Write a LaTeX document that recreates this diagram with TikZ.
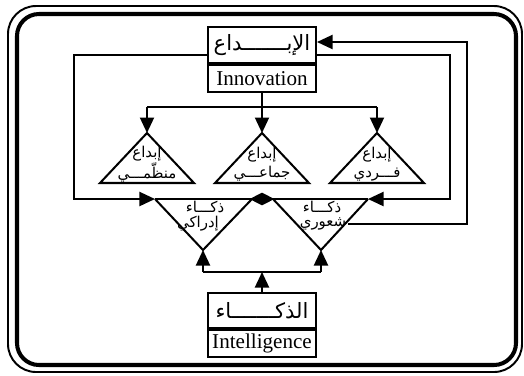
\documentclass[tikz,border=0pt]{standalone}
\usepackage{fontspec}
\setmainfont{Liberation Serif}
\newfontfamily\arabicfont[Script=Arabic]{DejaVu Sans}
\TeXXeTstate=1
\usetikzlibrary{arrows.meta}
\usetikzlibrary{positioning}
\usetikzlibrary{shapes.geometric}
\tikzset{
    wire/.style = {line width=1.15pt},
    conn/.style = {wire, -{Triangle[length=3.1mm, width=2.8mm]}},
    boxpart/.style = {draw, wire, rectangle, minimum width=21.6mm, inner sep=0pt, fill=white},
    arpart/.style = {boxpart, minimum height=7.2mm, font=\arabicfont\fontsize{12}{14}\selectfont},
    enpart/.style = {boxpart, minimum height=5.4mm, font=\fontsize{12}{14}\selectfont},
    tri/.style = {wire, line join=miter},
    trilabel/.style = {align=center, inner sep=1pt, font=\arabicfont\fontsize{8.5}{11}\selectfont},
    tiphead/.style = {diamond, fill, aspect=2, minimum width=5mm, minimum height=2.6mm, inner sep=0pt}
}

\begin{document}
\begin{tikzpicture}[x=0.2mm, y=-0.2mm]
    \useasboundingbox (0,0) rectangle (524,375);

    % double frame
    \draw[line width=1.1pt, rounded corners=5.6mm] (8,6) rectangle (522,372);
    \draw[line width=2.3pt, rounded corners=4.4mm] (17,14) rectangle (516,365);

    % boxes
    \node [arpart] (innovAr) at (262,45) {\beginR الإبـــــــداع\endR};
    \node [enpart, below=0pt of innovAr] (innovEn) {Innovation};
    \node [arpart, minimum height=7mm] (intelAr) at (262,310.5) {\beginR الذكـــــــاء\endR};
    \node [enpart, below=0pt of intelAr] (intelEn) {Intelligence};

    % upper triangles
    \coordinate (upL) at (147,133);
    \coordinate (upM) at (262,133);
    \coordinate (upR) at (377,133);
    \foreach \t in {upL,upM,upR}
        \draw[tri] (\t) -- ++(-47,50) -- ++(94,0) -- cycle;
    \node [trilabel] (creaL) at (147,164) {\beginR إبداع\endR\\\beginR منظّمـــي\endR};
    \node [trilabel] (creaM) at (262,164) {\beginR إبداع\endR\\\beginR جماعـــي\endR};
    \node [trilabel] (creaR) at (377,164) {\beginR إبداع\endR\\\beginR فـــردي\endR};

    % lower triangles
    \coordinate (lowL) at (203,250);
    \coordinate (lowR) at (321,250);
    \coordinate (lowLtop) at (155,199);
    \coordinate (lowRtop) at (368,199);
    \draw[tri] (lowLtop) -- (lowL) -- (252,199);
    \draw[tri] (lowRtop) -- (lowR) -- (273,199);
    \draw[wire] (lowLtop) -- (lowRtop);
    \node [tiphead] (meet) at (262,199) {};
    \node [trilabel] (intL1) at (205,207) {\beginR ذكـــاء\endR};
    \node [trilabel] (intL2) at (198,224) {\beginR إدراكي\endR};
    \node [trilabel] (intR1) at (322,207) {\beginR ذكـــاء\endR};
    \node [trilabel] (intR2) at (323,224) {\beginR شعوري\endR};

    % innovation -> kinds of creativity
    \coordinate (split) at (262,107);
    \draw[wire] (innovEn.south) -- (split);
    \draw[wire] (upL |- split) -- (upR |- split);
    \foreach \t in {upL,upM,upR}
        \draw[conn] (\t |- split) -- (\t);

    % feedback from innovation to intelligence kinds
    \coordinate (leftC) at (74,55);
    \coordinate (rightC) at (450,55);
    \draw[conn] (innovAr.west |- leftC) -- (leftC) |- (lowLtop);
    \draw[conn] (innovAr.east |- rightC) -- (rightC) |- (lowRtop);

    % outer loop back to innovation
    \coordinate (loopT) at (467,42);
    \draw[conn] (intR2.east) -| (loopT) -- (innovAr.east |- loopT);

    % intelligence -> both kinds
    \coordinate (join) at (262,272);
    \draw[conn] (intelAr.north) -- (join);
    \draw[wire] (lowL |- join) -- (lowR |- join);
    \foreach \t in {lowL,lowR}
        \draw[conn] (\t |- join) -- (\t);
\end{tikzpicture}
\end{document}
